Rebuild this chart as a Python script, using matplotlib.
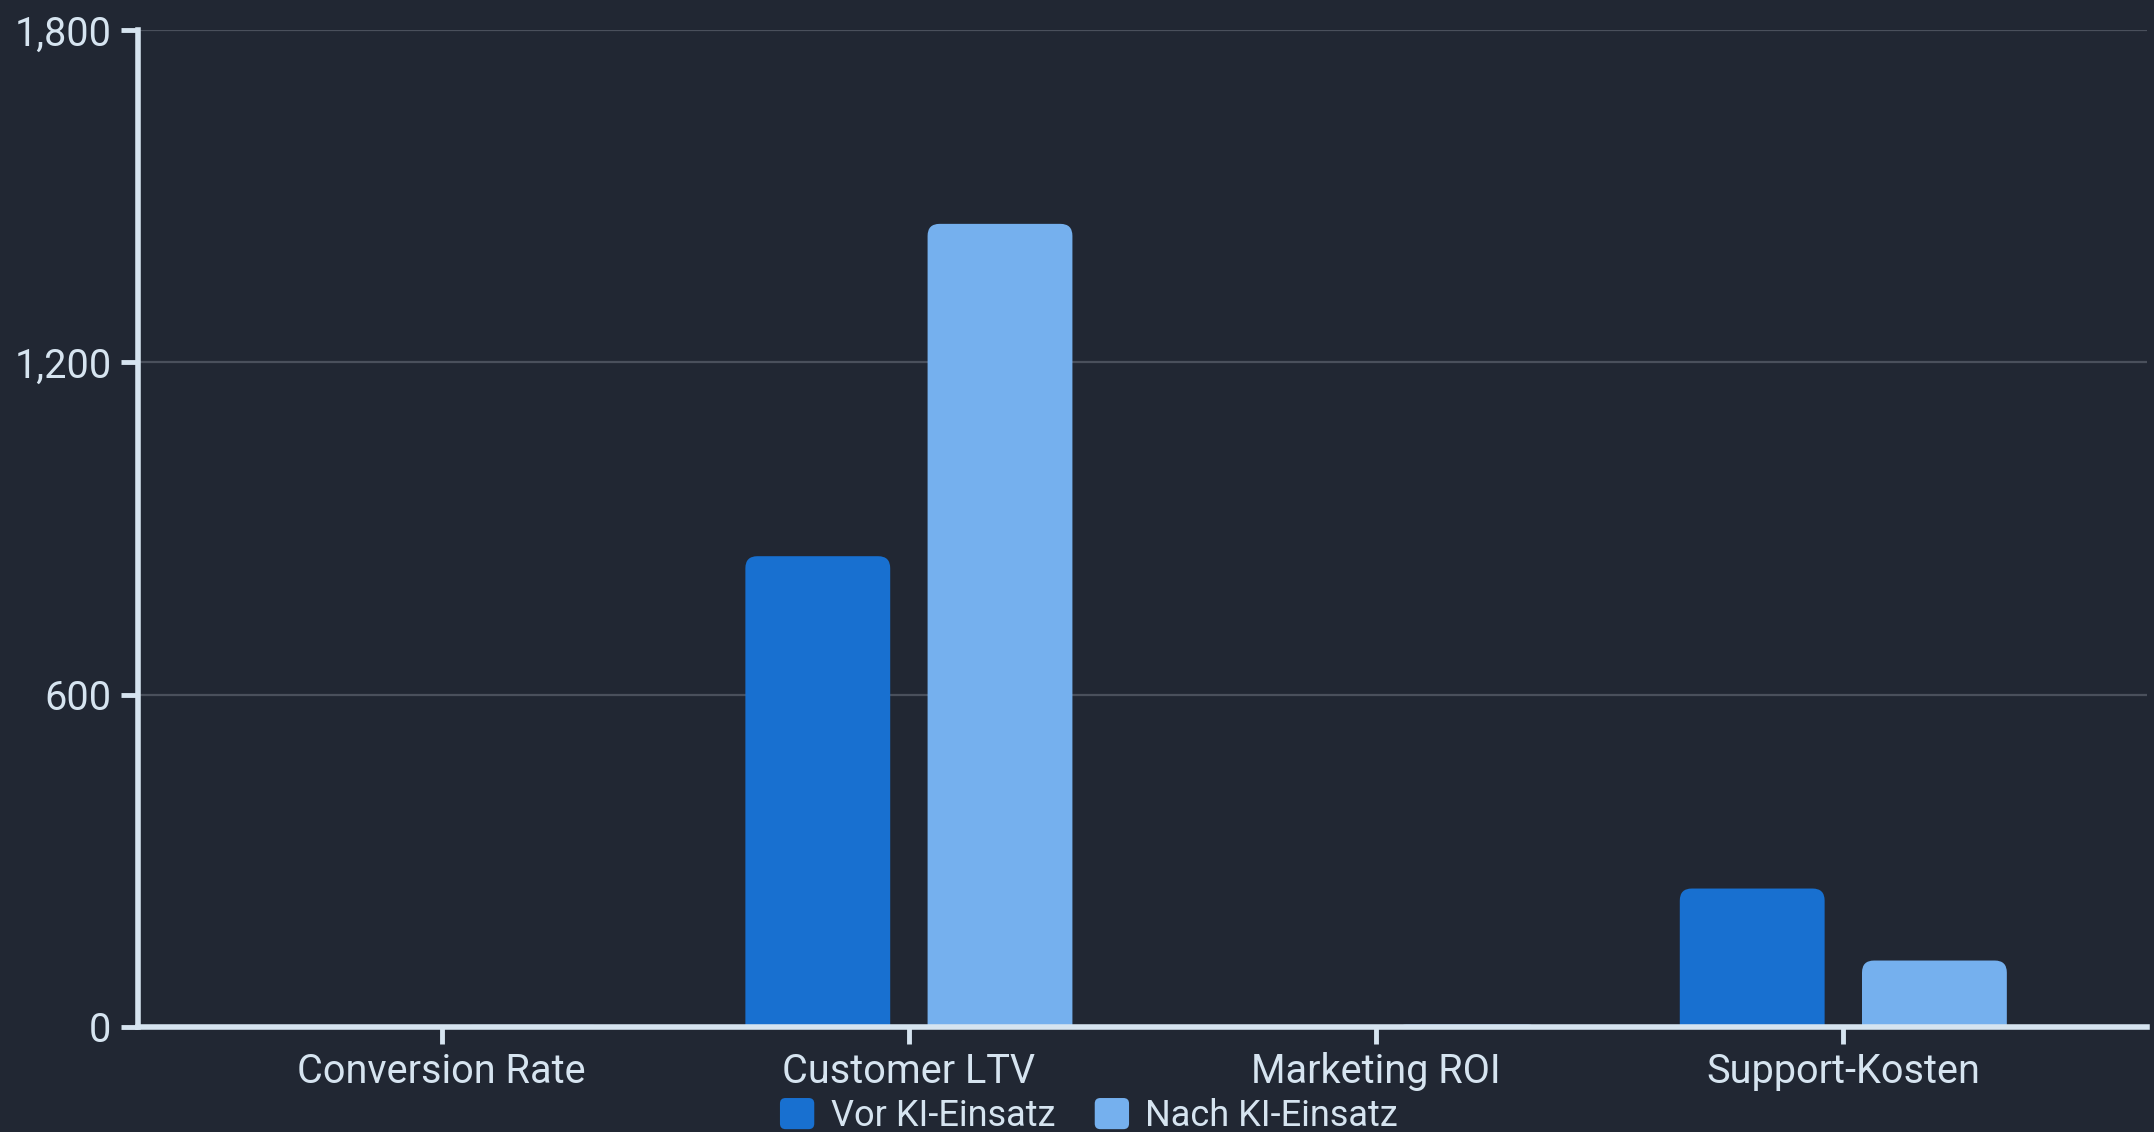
import numpy as np
import matplotlib
matplotlib.use("Agg")
import matplotlib.pyplot as plt
from matplotlib.patches import FancyBboxPatch, Patch
from matplotlib.legend_handler import HandlerPatch
from matplotlib.ticker import FuncFormatter

categories = ["Conversion Rate", "Customer LTV", "Marketing ROI", "Support-Kosten"]
vor_ki = [2.4, 850, 3.2, 250]
nach_ki = [3.8, 1450, 4.5, 120]
series_names = ["Vor KI-Einsatz", "Nach KI-Einsatz"]
y_ticks = [0, 600, 1200, 1800]

BG = "#212733"
TEXT = "#d6e4f0"
GRID = "#4a505c"
COLORS = ["#1870d0", "#75b0ee"]

plt.rcParams["font.family"] = ["Roboto", "DejaVu Sans"]

fig = plt.figure(figsize=(21.54, 11.32), dpi=100, facecolor=BG)
ax = fig.add_axes([138 / 2154, 105 / 1132, (2147 - 138) / 2154, (1102 - 105) / 1132])
ax.set_facecolor(BG)

x = np.arange(len(categories))
width = 0.31
offset = 0.195
ax.set_xlim(-0.65, len(categories) - 1 + 0.65)
ax.set_ylim(0, 1800)

# pixel aspect for round corners
p0 = ax.transData.transform((0, 0))
p1 = ax.transData.transform((1, 1))
px_x = p1[0] - p0[0]
px_y = p1[1] - p0[1]
aspect = px_x / px_y
r = 12 / px_x

for vals, sign, color in [(vor_ki, -1, COLORS[0]), (nach_ki, 1, COLORS[1])]:
    bars = ax.bar(x + sign * offset, vals, width, color=color)
    for b in bars:
        bx, bw, bh = b.get_x(), b.get_width(), b.get_height()
        b.set_visible(False)
        extra = r * aspect
        patch = FancyBboxPatch((bx, -extra), bw, bh + extra,
                               boxstyle=f"round,pad=0,rounding_size={r}",
                               mutation_aspect=aspect,
                               facecolor=color, edgecolor="none", zorder=2)
        ax.add_patch(patch)

ax.set_yticks(y_ticks)
ax.yaxis.set_major_formatter(FuncFormatter(lambda v, p: f"{int(v):,}"))
ax.set_xticks(x)
ax.set_xticklabels(categories)

ax.grid(axis="y", color=GRID, linewidth=1.6, zorder=0)
ax.set_axisbelow(True)
for s in ["top", "right"]:
    ax.spines[s].set_visible(False)
for s in ["left", "bottom"]:
    ax.spines[s].set_color(TEXT)
    ax.spines[s].set_linewidth(4)
    ax.spines[s].set_zorder(3)
ax.tick_params(colors=TEXT, labelsize=28.5, length=12, width=3.5, pad=6)
ax.tick_params(axis="y", pad=7)


def round_handle(legend, orig_handle, xdescent, ydescent, width, height, fontsize):
    return FancyBboxPatch((-xdescent, -ydescent), width, height,
                          boxstyle="round,pad=0,rounding_size=4")


handles = [Patch(facecolor=c, edgecolor="none") for c in COLORS]
leg = fig.legend(handles, series_names, loc="center", bbox_to_anchor=(1089 / 2154, 16 / 1132),
                 ncol=2, frameon=False, fontsize=26, handlelength=0.95, handleheight=0.95,
                 handletextpad=0.45, columnspacing=1.1, labelcolor=TEXT,
                 handler_map={Patch: HandlerPatch(patch_func=round_handle)})

fig.savefig("out.png", dpi=100, facecolor=BG)
